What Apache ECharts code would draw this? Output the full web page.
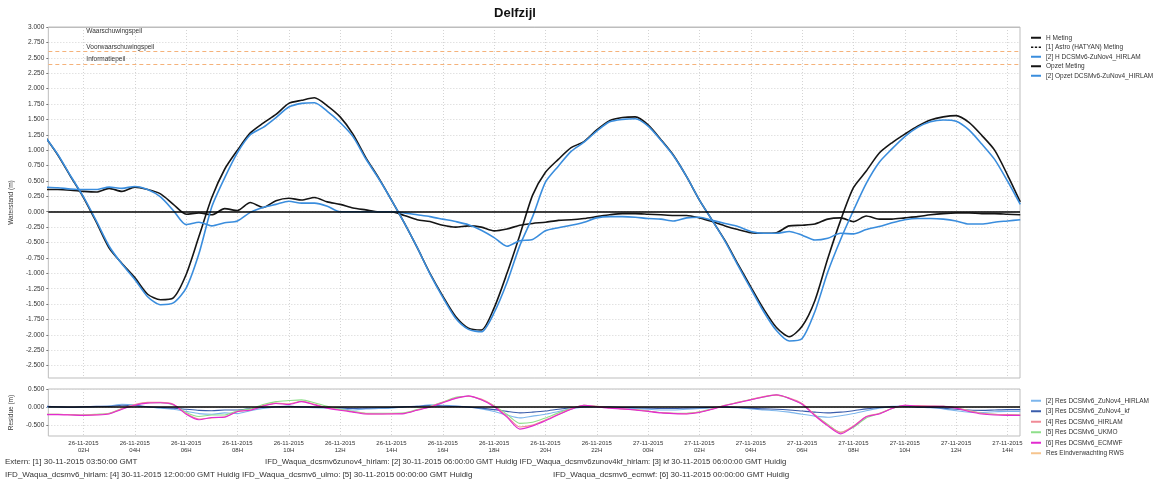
<!DOCTYPE html>
<html>
<head>
<meta charset="utf-8">
<title>Delfzijl</title>
<script src="https://cdn.jsdelivr.net/npm/echarts@6.0.0/dist/echarts.min.js"></script>
<style>
  html, body { margin: 0; padding: 0; background: #ffffff; }
  #chart { width: 1175px; height: 481px; }
</style>
</head>
<body>
<div id="chart"></div>
<script>
// Time in hours since 26-11-2015 00:00 GMT, half-hourly samples
const hours = [0.5,1,1.5,2,2.5,3,3.5,4,4.5,5,5.5,6,6.5,7,7.5,8,8.5,9,9.5,10,
  10.5,11,11.5,12,12.5,13,13.5,14,14.5,15,15.5,16,16.5,17,17.5,18,18.5,19,19.5,20,
  20.5,21,21.5,22,22.5,23,23.5,24,24.5,25,25.5,26,26.5,27,27.5,28,28.5,29,29.5,30,
  30.5,31,31.5,32,32.5,33,33.5,34,34.5,35,35.5,36,36.5,37,37.5,38,38.5];

// Waterstand (m)
const hMeting = [1.22,0.92,0.57,0.23,-0.17,-0.59,-0.84,-1.07,-1.34,-1.43,
  -1.40,-1.02,-0.40,0.23,0.69,1.00,1.28,1.44,1.58,1.76,
  1.81,1.85,1.72,1.54,1.26,0.88,0.55,0.19,-0.18,-0.58,
  -1.00,-1.37,-1.70,-1.89,-1.92,-1.56,-1.00,-0.38,0.27,0.64,
  0.85,1.04,1.14,1.33,1.48,1.53,1.54,1.41,1.17,0.91,
  0.57,0.19,-0.14,-0.47,-0.85,-1.22,-1.58,-1.88,-2.03,-1.86,
  -1.44,-0.76,-0.14,0.39,0.66,0.95,1.12,1.26,1.39,1.49,
  1.54,1.56,1.45,1.24,1.00,0.60,0.16];
const hZuNov4 = [1.22,0.93,0.58,0.24,-0.15,-0.56,-0.85,-1.10,-1.38,-1.51,
  -1.48,-1.24,-0.68,0.08,0.55,0.96,1.25,1.37,1.53,1.70,
  1.76,1.77,1.63,1.45,1.22,0.86,0.54,0.19,-0.18,-0.58,
  -1.01,-1.39,-1.73,-1.91,-1.95,-1.64,-1.15,-0.55,-0.08,0.48,
  0.74,0.98,1.13,1.31,1.46,1.50,1.51,1.39,1.16,0.90,
  0.57,0.19,-0.14,-0.48,-0.87,-1.25,-1.62,-1.93,-2.10,-2.06,
  -1.62,-0.98,-0.45,0.02,0.46,0.80,1.02,1.22,1.37,1.46,
  1.49,1.47,1.33,1.10,0.85,0.50,0.12];
const opzetMeting = [0.36,0.36,0.35,0.33,0.32,0.38,0.33,0.40,0.36,0.29,
  0.12,-0.04,-0.02,-0.05,0.05,0.02,0.15,0.07,0.18,0.22,
  0.19,0.23,0.16,0.12,0.06,0.03,0.00,0.00,-0.06,-0.13,
  -0.16,-0.22,-0.25,-0.23,-0.25,-0.31,-0.28,-0.22,-0.19,-0.17,
  -0.14,-0.13,-0.11,-0.08,-0.05,-0.03,-0.03,-0.04,-0.05,-0.06,
  -0.06,-0.10,-0.16,-0.23,-0.29,-0.34,-0.35,-0.34,-0.23,-0.22,
  -0.20,-0.12,-0.10,-0.16,-0.07,-0.12,-0.12,-0.10,-0.08,-0.05,
  -0.03,-0.02,-0.02,-0.03,-0.03,-0.04,-0.05];
const opzetZuNov4 = [0.40,0.39,0.37,0.36,0.36,0.40,0.38,0.41,0.36,0.24,
  0.02,-0.21,-0.17,-0.23,-0.18,-0.15,-0.01,0.07,0.12,0.17,
  0.14,0.14,0.09,0.00,0.00,0.00,0.00,0.00,-0.02,-0.05,
  -0.08,-0.12,-0.16,-0.21,-0.30,-0.42,-0.56,-0.47,-0.45,-0.31,
  -0.26,-0.22,-0.17,-0.10,-0.08,-0.08,-0.09,-0.11,-0.12,-0.15,
  -0.10,-0.09,-0.14,-0.19,-0.24,-0.32,-0.35,-0.35,-0.32,-0.38,
  -0.46,-0.43,-0.35,-0.36,-0.29,-0.24,-0.18,-0.13,-0.11,-0.11,
  -0.12,-0.15,-0.20,-0.20,-0.17,-0.15,-0.13];

// Residue (m)
const resZuNov4 = [0.00,0.00,-0.01,0.00,0.01,0.03,0.08,0.06,0.00,-0.03,
  -0.06,-0.12,-0.18,-0.20,-0.16,-0.18,-0.10,-0.04,0.00,0.02,
  0.00,-0.02,-0.03,-0.05,-0.08,-0.05,-0.04,-0.03,0.00,0.02,
  0.06,0.05,0.03,0.00,-0.05,-0.12,-0.22,-0.30,-0.25,-0.20,
  -0.12,-0.05,0.00,0.01,0.00,-0.02,-0.04,-0.06,-0.08,-0.08,
  -0.06,-0.04,-0.02,0.00,-0.02,-0.05,-0.08,-0.10,-0.14,-0.20,
  -0.25,-0.28,-0.24,-0.18,-0.10,-0.03,0.02,0.03,0.00,-0.02,
  -0.05,-0.10,-0.14,-0.15,-0.13,-0.12,-0.12];
const resZuNov4kf = [0.02,0.01,0.00,0.01,0.02,0.02,0.05,0.04,0.01,-0.01,
  -0.03,-0.06,-0.09,-0.10,-0.08,-0.08,-0.04,-0.01,0.01,0.02,
  0.01,0.00,-0.01,-0.02,-0.04,-0.03,-0.02,-0.01,0.01,0.02,
  0.04,0.03,0.02,0.00,-0.03,-0.07,-0.12,-0.16,-0.14,-0.11,
  -0.06,-0.02,0.01,0.01,0.00,-0.01,-0.02,-0.03,-0.04,-0.04,
  -0.03,-0.02,-0.01,0.00,-0.01,-0.03,-0.05,-0.06,-0.08,-0.11,
  -0.14,-0.16,-0.14,-0.10,-0.05,-0.01,0.01,0.02,0.00,-0.01,
  -0.03,-0.06,-0.08,-0.09,-0.08,-0.07,-0.07];
const resHirlam = [-0.20,-0.20,-0.21,-0.22,-0.21,-0.18,-0.04,0.07,0.13,0.13,
  0.08,-0.18,-0.33,-0.30,-0.27,-0.13,-0.08,0.04,0.11,0.09,
  0.16,0.08,-0.02,-0.08,-0.13,-0.18,-0.19,-0.18,-0.17,-0.08,
  0.01,0.13,0.25,0.30,0.22,0.03,-0.25,-0.55,-0.50,-0.36,
  -0.20,-0.05,0.05,0.02,-0.02,-0.05,-0.07,-0.11,-0.15,-0.17,
  -0.18,-0.14,-0.05,0.05,0.13,0.21,0.29,0.33,0.25,0.10,
  -0.22,-0.50,-0.70,-0.52,-0.26,-0.18,-0.04,0.05,0.04,0.03,
  0.02,-0.02,-0.10,-0.17,-0.20,-0.21,-0.22];
const resUkmo = [-0.20,-0.20,-0.21,-0.22,-0.20,-0.17,-0.05,0.06,0.12,0.12,
  0.06,-0.15,-0.26,-0.22,-0.22,-0.10,-0.05,0.07,0.15,0.18,
  0.20,0.12,0.02,-0.06,-0.12,-0.17,-0.17,-0.17,-0.16,-0.07,
  0.02,0.14,0.27,0.30,0.20,0.04,-0.20,-0.45,-0.42,-0.30,
  -0.16,-0.04,0.05,0.02,-0.02,-0.05,-0.07,-0.11,-0.15,-0.17,
  -0.17,-0.13,-0.05,0.05,0.13,0.21,0.28,0.33,0.24,0.08,
  -0.22,-0.48,-0.70,-0.56,-0.30,-0.18,-0.04,0.04,0.03,0.02,
  0.02,-0.02,-0.10,-0.17,-0.20,-0.21,-0.22];
const resEcmwf = [-0.21,-0.21,-0.22,-0.23,-0.22,-0.19,-0.06,0.05,0.11,0.12,
  0.07,-0.20,-0.35,-0.29,-0.28,-0.12,-0.09,0.03,0.10,0.07,
  0.15,0.06,-0.03,-0.09,-0.14,-0.19,-0.19,-0.19,-0.18,-0.09,
  0.00,0.12,0.24,0.31,0.20,0.01,-0.28,-0.61,-0.52,-0.38,
  -0.21,-0.06,0.05,0.01,-0.03,-0.05,-0.08,-0.12,-0.16,-0.18,
  -0.19,-0.15,-0.06,0.04,0.12,0.20,0.28,0.34,0.24,0.08,
  -0.24,-0.52,-0.74,-0.54,-0.27,-0.19,-0.04,0.05,0.03,0.02,
  0.02,-0.03,-0.12,-0.19,-0.22,-0.23,-0.23];

// Threshold levels (m)
const peilNames = ['Waarschuwingspeil', 'Voorwaarschuwingspeil', 'Informatiepeil'];
const peilValues = [3.0, 2.6, 2.4];

// Tick positions
const timeTicks = [2,4,6,8,10,12,14,16,18,20,22,24,26,28,30,32,34,36,38];
const levelTicks = [-2.5,-2.25,-2,-1.75,-1.5,-1.25,-1,-0.75,-0.5,-0.25,0,0.25,0.5,0.75,1,1.25,1.5,1.75,2,2.25,2.5,2.75,3];
const residueTicks = [-0.5,0,0.5];

// Footer lines
const footer = [
  ['Extern: [1] 30-11-2015 03:50:00 GMT', 'IFD_Waqua_dcsmv6zunov4_hirlam: [2] 30-11-2015 06:00:00 GMT Huidig IFD_Waqua_dcsmv6zunov4kf_hirlam: [3] kf 30-11-2015 06:00:00 GMT Huidig'],
  ['IFD_Waqua_dcsmv6_hirlam: [4] 30-11-2015 12:00:00 GMT Huidig IFD_Waqua_dcsmv6_ulmo: [5] 30-11-2015 00:00:00 GMT Huidig', 'IFD_Waqua_dcsmv6_ecmwf: [6] 30-11-2015 00:00:00 GMT Huidig']
];

const FONT = '"Liberation Sans", Arial, sans-serif';
const TXT = '#333333';
const GRIDLINE = { color: '#d4d4d4', type: [1, 2], width: 1 };
const DASH_ICON = 'path://M0 0h3v2h-3z M5 0h3v2h-3z M10 0h3v2h-3z';

function pairs(vals) { return hours.map((h, i) => [h, vals[i]]); }
function fmtTime(h) {
  const day = 26 + Math.floor(h / 24);
  const hh = h % 24;
  return day + '-11-2015\n' + String(hh).padStart(2, '0') + 'H';
}
function line(name, vals, color, xi, width, extra) {
  return Object.assign({
    name: name, type: 'line', xAxisIndex: xi, yAxisIndex: xi,
    data: vals ? pairs(vals) : [],
    showSymbol: false, symbol: 'none', silent: true,
    smooth: 0.25,
    color: color,
    lineStyle: { color: color, width: width },
    itemStyle: { color: color },
    animation: false
  }, extra || {});
}

const zeroLine = { yAxis: 0, lineStyle: { color: '#000000', width: 1.5, type: 'solid' }, label: { show: false } };
const peilLines = peilNames.map((n, i) => ({
  name: n, yAxis: peilValues[i],
  lineStyle: i === 0 ? { color: '#bdbdbd', width: 1, type: 'solid' } : { color: '#f5b27a', width: 1, type: [4, 3] },
  label: {
    show: true, formatter: '{b}',
    position: i === 0 ? 'insideStartBottom' : 'insideStartTop',
    distance: [38, 1],
    fontSize: 6.5, fontFamily: FONT, color: TXT
  }
}));

const chart = echarts.init(document.getElementById('chart'), null, { renderer: 'canvas' });

const option = {
  backgroundColor: '#ffffff',
  animation: false,
  textStyle: { fontFamily: FONT },
  grid: [
    { left: 48, top: 27, width: 972, height: 351, show: true, borderColor: '#bdbdbd', borderWidth: 1, backgroundColor: '#ffffff' },
    { left: 48, top: 389, width: 972, height: 47, show: true, borderColor: '#bdbdbd', borderWidth: 1, backgroundColor: '#ffffff' }
  ],
  xAxis: [
    {
      type: 'value', gridIndex: 0, min: 0.63, max: 38.49,
      axisLine: { show: false },
      axisTick: { show: false, customValues: timeTicks },
      axisLabel: { show: false, customValues: timeTicks },
      splitLine: { show: true, lineStyle: GRIDLINE }
    },
    {
      type: 'value', gridIndex: 1, min: 0.63, max: 38.49,
      axisLine: { show: false },
      axisTick: { show: false, customValues: timeTicks },
      axisLabel: {
        customValues: timeTicks, formatter: fmtTime, fontSize: 6, lineHeight: 7,
        color: TXT, fontFamily: FONT, margin: 4
      },
      splitLine: { show: true, lineStyle: GRIDLINE }
    }
  ],
  yAxis: [
    {
      type: 'value', gridIndex: 0, min: -2.7, max: 3.0,
      name: 'Waterstand (m)', nameLocation: 'middle', nameGap: 27, nameRotate: 90,
      nameTextStyle: { fontSize: 6.5, color: TXT, fontFamily: FONT },
      axisLine: { show: false },
      axisTick: { show: true, customValues: levelTicks, length: 2, lineStyle: { color: '#777' } },
      axisLabel: { customValues: levelTicks, formatter: v => v.toFixed(3), fontSize: 6.5, color: TXT, fontFamily: FONT, margin: 4 },
      splitLine: { show: true, lineStyle: GRIDLINE }
    },
    {
      type: 'value', gridIndex: 1, min: -0.8, max: 0.5,
      name: 'Residue (m)', nameLocation: 'middle', nameGap: 27, nameRotate: 90,
      nameTextStyle: { fontSize: 6.5, color: TXT, fontFamily: FONT },
      axisLine: { show: false },
      axisTick: { show: true, customValues: residueTicks, length: 2, lineStyle: { color: '#777' } },
      axisLabel: { customValues: residueTicks, formatter: v => v.toFixed(3), fontSize: 6.5, color: TXT, fontFamily: FONT, margin: 4 },
      splitLine: { show: true, lineStyle: GRIDLINE }
    }
  ],
  legend: [
    {
      orient: 'vertical', left: 1026, top: 29, itemWidth: 10, itemHeight: 2, itemGap: 2,
      selectedMode: false,
      textStyle: { fontSize: 6.5, lineHeight: 7.5, color: TXT, fontFamily: FONT },
      data: [
        { name: 'H Meting', icon: 'rect' },
        { name: '[1] Astro (HATYAN) Meting', icon: DASH_ICON },
        { name: '[2] H DCSMv6-ZuNov4_HIRLAM', icon: 'rect' },
        { name: 'Opzet Meting', icon: 'rect' },
        { name: '[2] Opzet DCSMv6-ZuNov4_HIRLAM', icon: 'rect' }
      ]
    },
    {
      orient: 'vertical', left: 1026, top: 392, itemWidth: 10, itemHeight: 2, itemGap: 3,
      selectedMode: false,
      textStyle: { fontSize: 6.5, lineHeight: 7.5, color: TXT, fontFamily: FONT },
      data: [
        { name: '[2] Res DCSMv6_ZuNov4_HIRLAM', icon: 'rect' },
        { name: '[3] Res DCSMv6_ZuNov4_kf', icon: 'rect' },
        { name: '[4] Res DCSMv6_HIRLAM', icon: 'rect' },
        { name: '[5] Res DCSMv6_UKMO', icon: 'rect' },
        { name: '[6] Res DCSMv6_ECMWF', icon: 'rect' },
        { name: 'Res Eindverwachting RWS', icon: 'rect' }
      ]
    }
  ],
  graphic: [
    { type: 'text', x: 515, y: 7, style: { text: 'Delfzijl', align: 'center', font: 'bold 13px ' + FONT, fill: '#111' } },
    { type: 'text', x: 5, y: 458, style: { text: footer[0][0], font: '8px ' + FONT, fill: TXT } },
    { type: 'text', x: 265, y: 458, style: { text: footer[0][1], font: '7.75px ' + FONT, fill: TXT } },
    { type: 'text', x: 5, y: 471, style: { text: footer[1][0], font: '8px ' + FONT, fill: TXT } },
    { type: 'text', x: 553, y: 471, style: { text: footer[1][1], font: '8px ' + FONT, fill: TXT } }
  ],
  series: [
    line('H Meting', hMeting, '#151515', 0, 1.6, {
      markLine: { silent: true, symbol: 'none', animation: false, data: [zeroLine].concat(peilLines) }
    }),
    line('[1] Astro (HATYAN) Meting', null, '#151515', 0, 1.2, { lineStyle: { color: '#151515', width: 1.2, type: 'dashed' } }),
    line('Opzet Meting', opzetMeting, '#151515', 0, 1.6),
    line('[2] H DCSMv6-ZuNov4_HIRLAM', hZuNov4, '#3a8ddd', 0, 1.6),
    line('[2] Opzet DCSMv6-ZuNov4_HIRLAM', opzetZuNov4, '#3a8ddd', 0, 1.6),

    line('Res Eindverwachting RWS', null, '#f6c48e', 1, 1.1),
    line('[2] Res DCSMv6_ZuNov4_HIRLAM', resZuNov4, '#7db6ec', 1, 1.1, {
      markLine: { silent: true, symbol: 'none', animation: false, data: [zeroLine] }
    }),
    line('[3] Res DCSMv6_ZuNov4_kf', resZuNov4kf, '#3a5cab', 1, 1.1),
    line('[5] Res DCSMv6_UKMO', resUkmo, '#8edf8a', 1, 1.1),
    line('[4] Res DCSMv6_HIRLAM', resHirlam, '#f08a96', 1, 1.1),
    line('[6] Res DCSMv6_ECMWF', resEcmwf, '#e22bcf', 1, 1.1)
  ]
};

chart.setOption(option);
</script>
</body>
</html>
